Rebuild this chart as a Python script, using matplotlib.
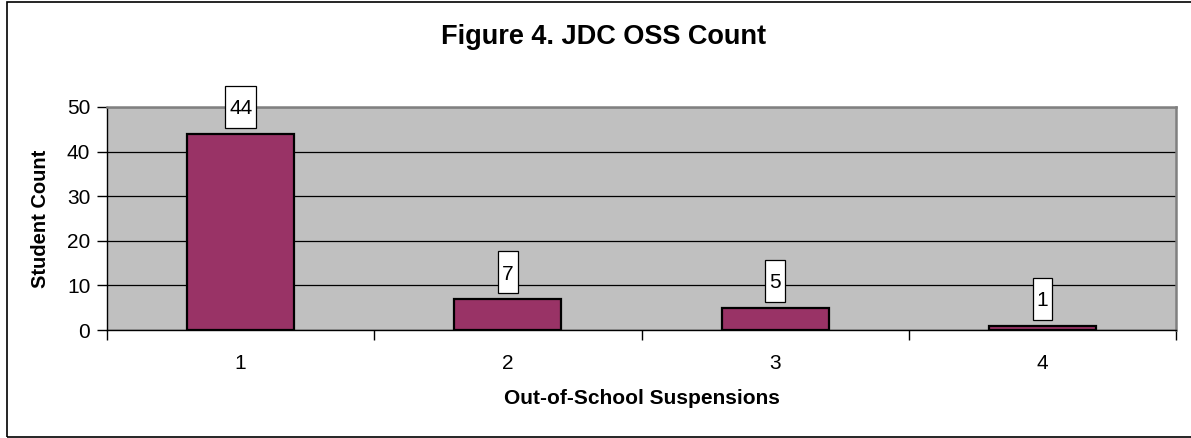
import matplotlib
matplotlib.use("Agg")
import matplotlib.pyplot as plt
from matplotlib.path import Path
from matplotlib.patches import Rectangle

# data
categories = [1, 2, 3, 4]
counts = [44, 7, 5, 1]
y_ticks = [0, 10, 20, 30, 40, 50]

plt.rcParams['font.family'] = ['Liberation Sans', 'DejaVu Sans']


def tall_box(x0, y0, width, height, mutation_size):
    # white label box, taller than wide like the Excel one
    px = 0.19 * mutation_size
    pb = 0.45 * mutation_size
    pt = 0.65 * mutation_size
    x1, y1 = x0 + width + px, y0 + height + pt
    x0, y0 = x0 - px, y0 - pb
    return Path([(x0, y0), (x1, y0), (x1, y1), (x0, y1), (x0, y0)], closed=True)


fig = plt.figure(figsize=(11.91, 4.38), dpi=100)
ax = fig.add_axes([107 / 1191, 1 - 330 / 438, (1176 - 107) / 1191, (330 - 107) / 438])
ax.set_facecolor('#C0C0C0')

ax.bar(categories, counts, width=0.4, color='#993366', edgecolor='black', linewidth=1.6, zorder=3)

for x, v in zip(categories, counts):
    ax.annotate(str(v), xy=(x, v), xytext=(0, 11), textcoords='offset points',
                ha='center', va='bottom', fontsize=15, zorder=4,
                bbox=dict(boxstyle=tall_box, fc='white', ec='black', lw=0.9))

ax.set_xlim(0.5, 4.5)
ax.set_ylim(0, 50)
ax.set_yticks(y_ticks)
ax.set_xticks(categories)
ax.set_xticks([0.5, 1.5, 2.5, 3.5, 4.5], minor=True)
ax.tick_params(axis='x', which='major', length=0, pad=17, labelsize=15)
ax.tick_params(axis='x', which='minor', length=7, width=1, direction='out')
ax.tick_params(axis='y', length=7, width=1, direction='out', pad=5, labelsize=15)

ax.yaxis.grid(True, color='black', linewidth=0.9, zorder=1)
ax.set_axisbelow(True)

for side in ['top', 'right']:
    ax.spines[side].set_color('#808080')
    ax.spines[side].set_linewidth(1.8)
for side in ['left', 'bottom']:
    ax.spines[side].set_color('black')
    ax.spines[side].set_linewidth(1.0)

ax.set_xlabel('Out-of-School Suspensions', fontsize=15, fontweight='bold', labelpad=12)
ax.set_ylabel('Student Count', fontsize=14.5, fontweight='bold', labelpad=12)

fig.text(604 / 1191, 1 - 37 / 438, 'Figure 4. JDC OSS Count', ha='center', va='center',
         fontsize=19.5, fontweight='bold')

# outer chart frame
fig.add_artist(Rectangle((7 / 1191, 1 / 438), 1.1, 1 - 3 / 438, transform=fig.transFigure,
                         fill=False, edgecolor='black', linewidth=1.2))

fig.savefig('out.png', dpi=100)
